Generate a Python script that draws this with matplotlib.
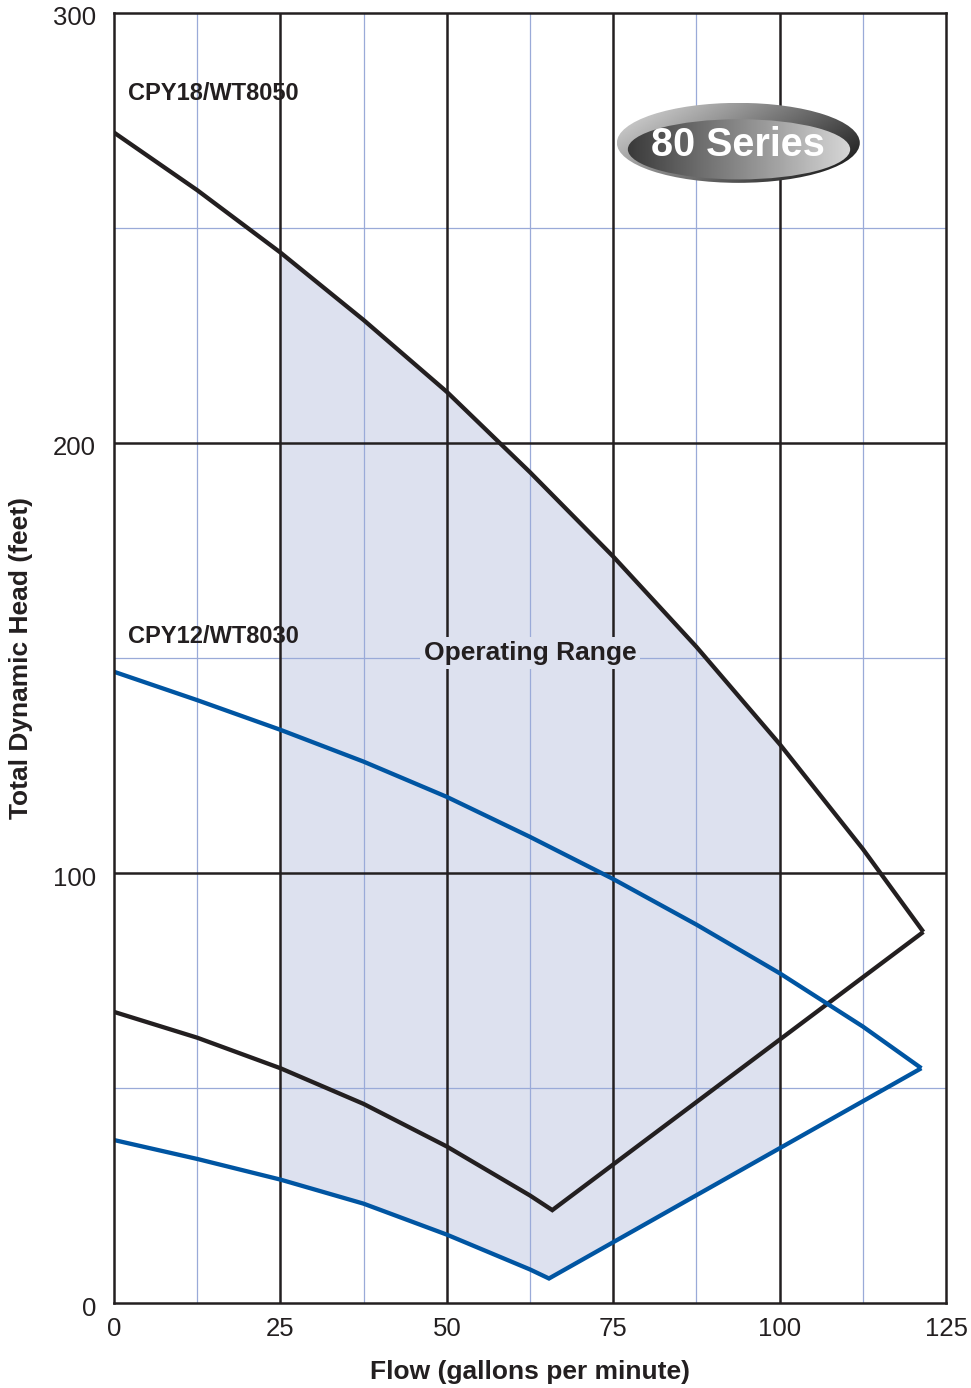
import matplotlib.pyplot as plt
import numpy as np
from matplotlib.patches import Ellipse
from matplotlib.transforms import ScaledTranslation

plt.rcParams['font.family'] = ['Liberation Sans', 'DejaVu Sans']

# Curvas (gpm, pies)
x_top18 = [0, 12.5, 25, 37.5, 50, 62.5, 75, 87.5, 100, 112.5, 121.6]
h_top18 = [272.2, 258.8, 244.3, 228.6, 211.9, 193.2, 173.6, 152.6, 130.0, 105.6, 86.3]
x_low18 = [0, 12.5, 25, 37.5, 50, 62.5, 65.85, 121.6]
h_low18 = [67.7, 61.7, 54.6, 46.3, 36.4, 25.0, 21.6, 86.3]

x_top12 = [0, 12.5, 25, 37.5, 50, 62.5, 75, 87.5, 100, 112.5, 121.3]
h_top12 = [146.8, 140.2, 133.3, 125.9, 117.7, 108.4, 98.6, 88.0, 76.7, 64.3, 54.6]
x_low12 = [0, 12.5, 25, 37.5, 50, 62.5, 65.35, 121.3]
h_low12 = [37.9, 33.5, 28.7, 23.1, 15.9, 7.8, 5.7, 54.6]

range_x = [25, 100]
x_ticks = [0, 25, 50, 75, 100, 125]
y_ticks = [0, 100, 200, 300]

black = '#231f20'
blue = '#0055a2'
shade = '#dde1ef'
minor_c = '#9aaad8'

fig = plt.figure(figsize=(9.71, 13.88), dpi=100)
ax = fig.add_axes([114/971, 85/1388, 832/971, 1290/1388])
ax.set_xlim(0, 125)
ax.set_ylim(0, 300)

# Zona de operacion
xs = np.linspace(range_x[0], range_x[1], 400)
ax.fill_between(xs, np.interp(xs, x_low12, h_low12), np.interp(xs, x_top18, h_top18),
                color=shade, lw=0, zorder=1)

# Cuadricula
for v in np.arange(12.5, 125, 25):
    ax.axvline(v, color=minor_c, lw=0.9, zorder=2)
for v in [50, 150, 250]:
    ax.axhline(v, color=minor_c, lw=0.9, zorder=2)
for v in [25, 50, 75, 100]:
    ax.axvline(v, color=black, lw=1.8, zorder=2)
for v in [100, 200]:
    ax.axhline(v, color=black, lw=1.8, zorder=2)

# Curvas
kw = dict(lw=3.1, solid_joinstyle='miter', solid_capstyle='butt', zorder=4)
ax.plot(x_top18, h_top18, color=black, **kw)
ax.plot(x_low18, h_low18, color=black, **kw)
ax.plot(x_top12, h_top12, color=blue, **kw)
ax.plot(x_low12, h_low12, color=blue, **kw)

for s in ax.spines.values():
    s.set_color(black)
    s.set_linewidth(1.8)
    s.set_zorder(5)

ax.set_xticks(x_ticks)
ax.set_yticks(y_ticks)
ax.tick_params(axis='both', length=0, labelsize=18.5, colors=black)
ax.tick_params(axis='x', pad=10)
ax.tick_params(axis='y', pad=13)
for lab in ax.get_yticklabels():
    lab.set_transform(lab.get_transform() + ScaledTranslation(0, -0.03, fig.dpi_scale_trans))

ax.set_xlabel('Flow (gallons per minute)', fontsize=19, fontweight='bold', color=black)
ax.set_ylabel('Total Dynamic Head (feet)', fontsize=19, fontweight='bold', color=black)
ax.xaxis.set_label_coords(0.5, -0.044)
ax.yaxis.set_label_coords(-0.097, 0.5)

# Etiquetas
ax.text(2.1, 281.2, 'CPY18/WT8050', fontsize=17, fontweight='bold', color=black,
        ha='left', va='center', zorder=6)
ax.text(2.1, 154.9, 'CPY12/WT8030', fontsize=17, fontweight='bold', color=black,
        ha='left', va='center', zorder=6)
ax.text(62.5, 151.2, 'Operating Range', fontsize=19, fontweight='bold', color=black,
        ha='center', va='center', zorder=6,
        bbox=dict(facecolor=shade, edgecolor='none', boxstyle='square,pad=0.15'))

# Insignia "80 Series"
cx, cy, w, h = 93.8, 269.8, 36.5, 18.6
icx, icy, iw, ih = 93.9, 268.3, 33.4, 14.0
outer = Ellipse((cx, cy), w, h, facecolor='none', edgecolor='none', zorder=6)
inner = Ellipse((icx, icy), iw, ih, facecolor='none', edgecolor='none', zorder=7)
ax.add_patch(outer)
ax.add_patch(inner)
gx, gy = np.meshgrid(np.linspace(0, 1, 256), np.linspace(0, 1, 64))
ext = [cx - w/2, cx + w/2, cy - h/2, cy + h/2]
im1 = ax.imshow(1 - (0.65 * gx + 0.35 * gy), cmap='gray', vmin=-0.05, vmax=1.15,
                aspect='auto', origin='upper', extent=ext, zorder=6)
im1.set_clip_path(outer)
im2 = ax.imshow(gx, cmap='gray', vmin=-0.3, vmax=1.2, aspect='auto', extent=ext, zorder=7)
im2.set_clip_path(inner)
ax.text(cx, 269.2, '80 Series', fontsize=28.5, fontweight='bold', color='white',
        ha='center', va='center', zorder=8)
ax.set_xlim(0, 125)
ax.set_ylim(0, 300)

fig.savefig('out.png', dpi=100)
